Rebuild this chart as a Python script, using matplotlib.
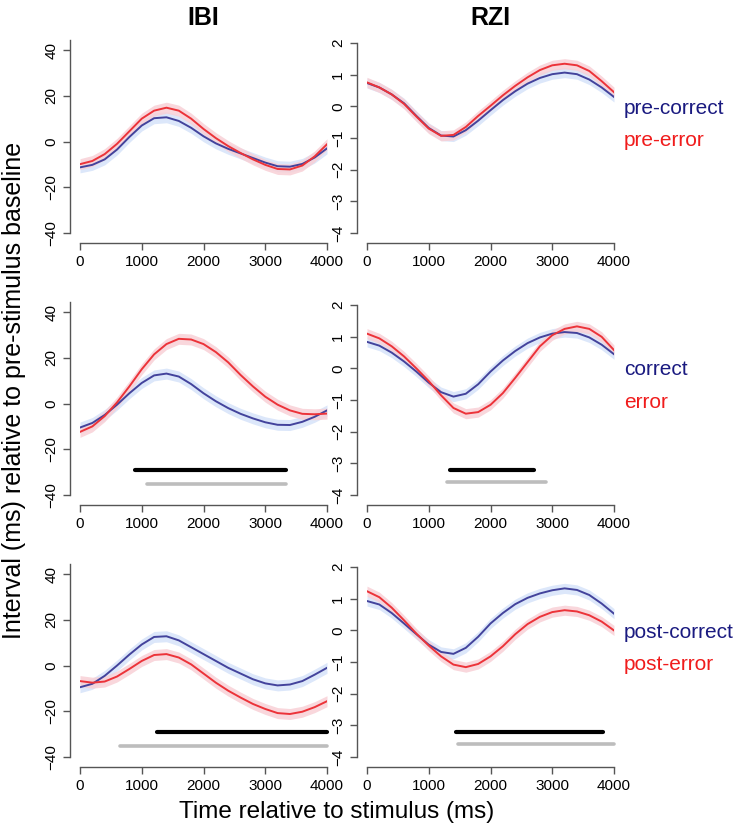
import numpy as np
import matplotlib
matplotlib.use("Agg")
import matplotlib.pyplot as plt

plt.rcParams['font.family'] = ['Liberation Sans', 'DejaVu Sans']

# time axis (ms)
t = np.arange(0, 4001, 200)

# IBI (ms) - pre / current / post trial
ibi_pre_correct = [-11.3, -10.2, -7.8, -3.5, 2.0, 7.0, 10.2, 10.6, 9.0, 6.0, 2.3,
                   -0.8, -3.2, -5.2, -7.2, -9.2, -10.8, -11.0, -9.8, -7.0, -3.0]
ibi_pre_error = [-9.9, -8.5, -5.5, -1.0, 4.5, 10.0, 13.5, 14.8, 13.5, 10.0, 5.5,
                 1.5, -2.0, -5.0, -7.8, -10.2, -12.0, -12.2, -10.5, -6.5, -1.2]
ibi_correct = [-10.5, -8.5, -5.0, -0.5, 4.5, 9.0, 12.3, 13.1, 11.8, 8.5, 4.5,
               1.0, -2.0, -4.5, -6.5, -8.2, -9.3, -9.4, -8.0, -5.8, -3.0]
ibi_error = [-12.4, -10.0, -5.5, 0.5, 7.5, 15.0, 21.5, 26.0, 28.3, 28.0, 26.0,
             22.5, 18.0, 12.5, 7.5, 3.0, -0.5, -3.0, -4.5, -4.7, -4.4]
ibi_post_correct = [-9.5, -8.0, -4.5, 0.0, 4.8, 9.2, 12.5, 12.8, 11.0, 8.0, 5.0,
                    2.0, -1.0, -3.5, -6.0, -7.8, -8.7, -8.3, -6.8, -4.0, -1.0]
ibi_post_error = [-6.8, -7.5, -7.0, -4.8, -1.5, 2.0, 4.6, 5.0, 3.5, 0.5, -3.5,
                  -7.5, -11.0, -14.0, -16.8, -19.0, -20.8, -21.2, -20.2, -18.2, -15.6]

# RZI
rzi_pre_correct = [0.74, 0.6, 0.38, 0.1, -0.3, -0.68, -0.92, -0.95, -0.75, -0.45, -0.12,
                   0.2, 0.48, 0.72, 0.9, 1.02, 1.07, 1.02, 0.85, 0.6, 0.3]
rzi_pre_error = [0.76, 0.6, 0.38, 0.08, -0.32, -0.7, -0.93, -0.9, -0.65, -0.3, 0.02,
                 0.35, 0.65, 0.92, 1.15, 1.3, 1.35, 1.3, 1.12, 0.8, 0.45]
rzi_correct = [0.84, 0.72, 0.5, 0.22, -0.1, -0.45, -0.75, -0.89, -0.8, -0.5, -0.1,
               0.25, 0.55, 0.8, 0.98, 1.1, 1.15, 1.12, 0.98, 0.75, 0.45]
rzi_error = [1.1, 0.95, 0.7, 0.38, 0.0, -0.4, -0.85, -1.25, -1.43, -1.38, -1.15,
             -0.78, -0.3, 0.2, 0.7, 1.05, 1.25, 1.33, 1.25, 1.0, 0.58]
rzi_post_correct = [0.93, 0.82, 0.55, 0.22, -0.12, -0.45, -0.68, -0.74, -0.55, -0.2, 0.22,
                    0.55, 0.83, 1.03, 1.17, 1.27, 1.33, 1.28, 1.12, 0.85, 0.53]
rzi_post_error = [1.24, 1.05, 0.72, 0.32, -0.1, -0.48, -0.82, -1.08, -1.16, -1.06, -0.82,
                  -0.5, -0.12, 0.2, 0.43, 0.58, 0.64, 0.6, 0.48, 0.28, 0.0]

se_ibi = 2.4
se_rzi = 0.16

# significance bars: (start, end, y)
ibi_sig_black = [None, (890, 3330, -29), (1250, 4000, -29)]
ibi_sig_gray = [None, (1080, 3330, -35), (650, 4000, -35)]
rzi_sig_black = [None, (1340, 2700, -3.2), (1440, 3820, -3.2)]
rzi_sig_gray = [None, (1290, 2900, -3.6), (1470, 4000, -3.6)]

labels_blue = ["pre-correct", "correct", "post-correct"]
labels_red = ["pre-error", "error", "post-error"]

ibi_rows = [(ibi_pre_correct, ibi_pre_error), (ibi_correct, ibi_error),
            (ibi_post_correct, ibi_post_error)]
rzi_rows = [(rzi_pre_correct, rzi_pre_error), (rzi_correct, rzi_error),
            (rzi_post_correct, rzi_post_error)]

blue = "#43439c"
blue_band = "#dce7fa"
red = "#ec3339"
red_band = "#f8d0d6"
txt_blue = "#1a1a80"
txt_red = "#f01c1c"
axcol = "#555555"

W, H = 742, 835
fig = plt.figure(figsize=(W / 100, H / 100), dpi=100)

row_tops = [40, 302, 564]
row_h = 193
col_lefts = [80, 367]
col_w = 247


def style(ax, ylim, yticks, ybounds):
    ax.set_xlim(0, 4000)
    ax.set_ylim(*ylim)
    for s in ["top", "right"]:
        ax.spines[s].set_visible(False)
    for s in ["left", "bottom"]:
        ax.spines[s].set_position(("outward", 7.2))
        ax.spines[s].set_color(axcol)
        ax.spines[s].set_linewidth(1.0)
    ax.spines["bottom"].set_bounds(0, 4000)
    ax.spines["left"].set_bounds(*ybounds)
    ax.set_xticks([0, 1000, 2000, 3000, 4000])
    ax.set_yticks(yticks)
    ax.tick_params(colors=axcol, labelcolor="black", labelsize=11, length=5, width=1.0)
    for lab in ax.get_yticklabels():
        lab.set_rotation(90)
        lab.set_va("center")


for r in range(3):
    y0 = 1 - (row_tops[r] + row_h) / H
    # IBI
    ax = fig.add_axes([col_lefts[0] / W, y0, col_w / W, row_h / H])
    b, e = ibi_rows[r]
    ax.fill_between(t, np.array(b) - se_ibi, np.array(b) + se_ibi, color=blue_band, lw=0)
    ax.fill_between(t, np.array(e) - se_ibi, np.array(e) + se_ibi, color=red_band, lw=0, alpha=0.85)
    ax.plot(t, b, color=blue, lw=1.4)
    ax.plot(t, e, color=red, lw=1.4)
    if ibi_sig_black[r]:
        s0, s1, yy = ibi_sig_black[r]
        ax.plot([s0, s1], [yy, yy], color="black", lw=3, solid_capstyle="round", clip_on=False)
        s0, s1, yy = ibi_sig_gray[r]
        ax.plot([s0, s1], [yy, yy], color="#bdbdbd", lw=2.6, solid_capstyle="round", clip_on=False)
    style(ax, (-40, 44.4), [-40, -20, 0, 20, 40], (-40, 44.4))
    if r == 0:
        ax.set_title("IBI", fontsize=18, fontweight="bold", pad=11)

    # RZI
    ax = fig.add_axes([col_lefts[1] / W, y0, col_w / W, row_h / H])
    b, e = rzi_rows[r]
    ax.fill_between(t, np.array(b) - se_rzi, np.array(b) + se_rzi, color=blue_band, lw=0)
    ax.fill_between(t, np.array(e) - se_rzi, np.array(e) + se_rzi, color=red_band, lw=0, alpha=0.85)
    ax.plot(t, b, color=blue, lw=1.4)
    ax.plot(t, e, color=red, lw=1.4)
    if rzi_sig_black[r]:
        s0, s1, yy = rzi_sig_black[r]
        ax.plot([s0, s1], [yy, yy], color="black", lw=3, solid_capstyle="round", clip_on=False)
        s0, s1, yy = rzi_sig_gray[r]
        ax.plot([s0, s1], [yy, yy], color="#bdbdbd", lw=2.6, solid_capstyle="round", clip_on=False)
    style(ax, (-4, 2.1), [-4, -3, -2, -1, 0, 1, 2], (-4, 2))
    if r == 0:
        ax.set_title("RZI", fontsize=18, fontweight="bold", pad=11)

    # condition labels
    ty = row_tops[r] + 68
    fig.text(624 / W, 1 - ty / H, labels_blue[r], color=txt_blue, fontsize=15, va="center")
    fig.text(624 / W, 1 - (ty + 32) / H, labels_red[r], color=txt_red, fontsize=15, va="center")

fig.text(14 / W, 1 - 390 / H, "Interval (ms) relative to pre-stimulus baseline",
         rotation=90, fontsize=18, ha="center", va="center")
fig.text(337 / W, 1 - 812 / H, "Time relative to stimulus (ms)",
         fontsize=17.5, ha="center", va="center")

fig.savefig("out.png", dpi=100)
